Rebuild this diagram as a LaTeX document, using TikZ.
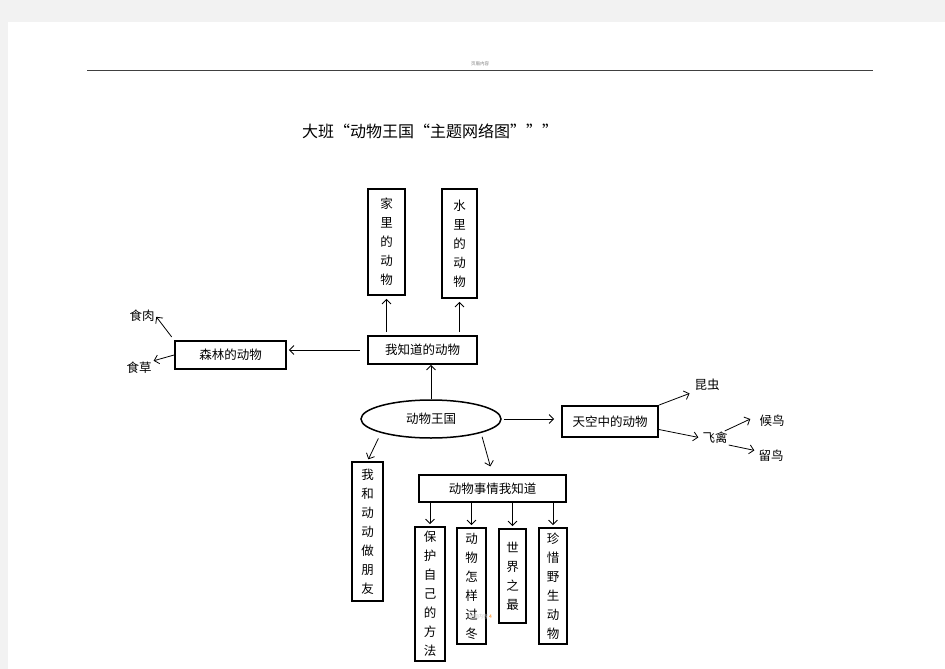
\documentclass[tikz,border=0pt]{standalone}
\usepackage{fontspec}
\setmainfont{Noto Sans CJK SC}
\usetikzlibrary{arrows.meta,shapes.geometric}

\begin{document}
\begin{tikzpicture}[x=1pt,y=-1pt,>={Straight Barb[length=4.5pt,width=9pt]},font=\fontsize{12.5}{19}\selectfont]
\tikzstyle{box}=[draw,line width=1.8pt,inner sep=0pt,align=center]
\tikzstyle{link}=[->,line width=0.8pt]
\tikzstyle{word}=[inner sep=1pt]

% page and header
\fill[gray!10] (0,0) rectangle (945,669);
\fill[white] (8,22) rectangle (945,669);
\useasboundingbox (0,0) rectangle (945,669);
\draw[line width=0.8pt,black!75] (87,70) -- (873,70);
\node[gray,font=\fontsize{4.5}{5}\selectfont] (header) at (480,64) {页眉内容};
\node[font=\fontsize{16}{20}\selectfont] (title) at (430,131) {大班“动物王国“主题网络图\char"22\char"22”};

% centre
\node[draw,ellipse,line width=1.5pt,inner sep=0pt,minimum width=140,minimum height=38] (wangguo) at (431,419) {动物王国};
\node[box,minimum width=109,minimum height=28] (zhidao) at (422.5,350) {我知道的动物};
\node[box,minimum width=37,minimum height=106] (jiali) at (386.5,242) {家\\里\\的\\动\\物};
\node[box,minimum width=35,minimum height=109] (shuili) at (459.5,243.5) {水\\里\\的\\动\\物};
\node[box,minimum width=111,minimum height=28] (senlin) at (230.5,355) {森林的动物};
\node[word] (shirou) at (142,316) {食肉};
\node[word] (shicao) at (139,368) {食草};

% sky
\node[box,minimum width=96,minimum height=31] (tiankong) at (610,421.5) {天空中的动物};
\node[word] (kunchong) at (707,385) {昆虫};
\node[word] (feiqin) at (715,438) {飞禽};
\node[word] (houniao) at (772,421) {候鸟};
\node[word] (liuniao) at (771,456) {留鸟};

% lower part
\node[box,minimum width=31,minimum height=139] (pengyou) at (367.5,531.5) {我\\和\\动\\动\\做\\朋\\友};
\node[box,minimum width=147,minimum height=27] (shiqing) at (492.5,488.5) {动物事情我知道};
\node[box,minimum width=30,minimum height=134] (baohu) at (430,594) {保\\护\\自\\己\\的\\方\\法};
\node[box,minimum width=29,minimum height=116] (guodong) at (471.5,586) {动\\物\\怎\\样\\过\\冬};
\node[box,minimum width=27,minimum height=94] (zuizui) at (512.5,576) {世\\界\\之\\最};
\node[box,minimum width=28,minimum height=116] (zhenxi) at (553,586) {珍\\惜\\野\\生\\动\\物};
\node[font=\fontsize{5}{6}\selectfont] (footer) at (480,617) {\textcolor{gray!45}{页脚内容}\,\textcolor{orange}{4}};

% arrows
\draw[link] (wangguo.north) -- (wangguo.north |- zhidao.south);
\draw[link,shorten <=3pt,shorten >=3pt] (zhidao.north -| jiali.south) -- (jiali.south);
\draw[link,shorten <=3pt,shorten >=3pt] (zhidao.north -| shuili.south) -- (shuili.south);
\draw[link,shorten <=7pt,shorten >=2pt] (zhidao.west) -- (zhidao.west -| senlin.east);
\draw[link,shorten <=4pt,shorten >=1pt] (senlin.north west) -- (shirou.east);
\draw[link,shorten >=1pt] (senlin.west) -- (shicao.north east);
\draw[link,shorten <=2pt,shorten >=7pt] (wangguo.east) -- (wangguo.east -| tiankong.west);
\draw[link,shorten >=4pt] (tiankong.north east) -- (kunchong.south west);
\draw[link,shorten >=3pt] ([yshift=-8pt]tiankong.east) -- (feiqin.west);
\draw[link] ([xshift=-4pt]feiqin.north east) -- ([shift={(-8pt,2pt)}]houniao.west);
\draw[link,shorten >=3pt] (feiqin.south east) -- ([yshift=5pt]liuniao.west);
\draw[link,shorten <=6pt,shorten >=2pt] (wangguo.south west) -- (pengyou.north);
\draw[link,shorten <=4pt,shorten >=8pt] (wangguo.south east) -- (shiqing.north);
\foreach \b in {baohu,guodong,zuizui,zhenxi}
  \draw[link,shorten >=2pt] (\b.north |- shiqing.south) -- (\b.north);
\end{tikzpicture}
\end{document}
